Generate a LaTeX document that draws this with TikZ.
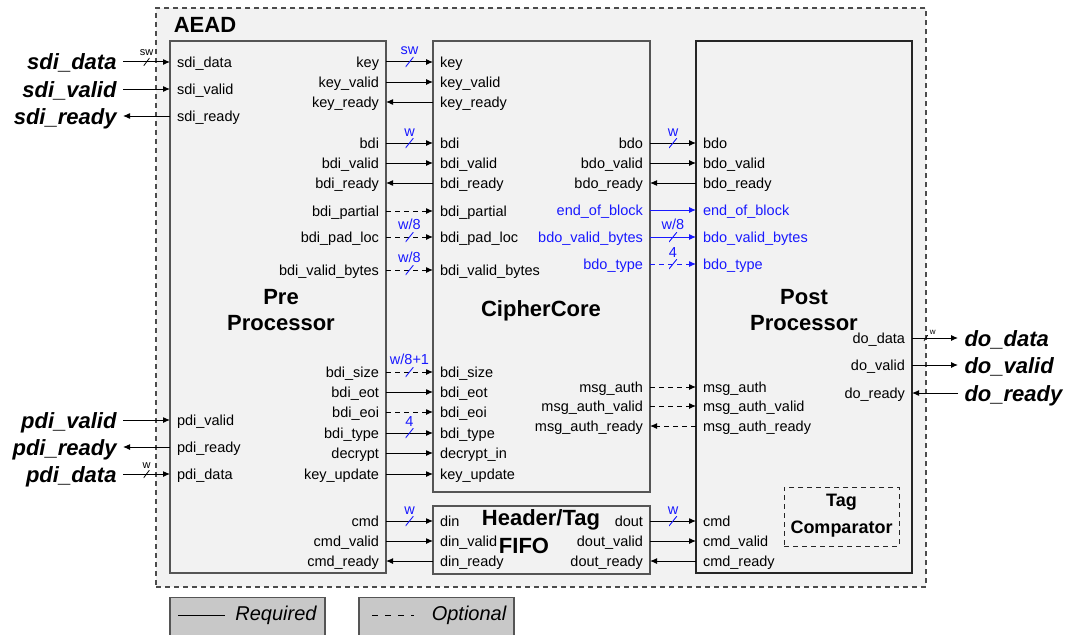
\documentclass[tikz,border=0pt]{standalone}
\usepackage{fontspec}
\setmainfont{Liberation Sans}
\usetikzlibrary{arrows.meta}

\definecolor{bgfill}{RGB}{242,242,242}
\definecolor{legfill}{RGB}{200,200,200}
\definecolor{sigblue}{RGB}{25,25,255}
\definecolor{boxline}{RGB}{85,85,85}

\newcommand{\portfont}{\fontsize{14.5}{16}\selectfont}
\newcommand{\smallfont}{\fontsize{11}{12}\selectfont}
\newcommand{\titlefont}{\fontsize{22}{26}\selectfont\bfseries}
\newcommand{\extfont}{\fontsize{22}{26}\selectfont\bfseries\itshape}

\begin{document}
\begin{tikzpicture}[x=1pt, y=-1pt, ->, >={Latex[length=7pt,width=6pt]}, line width=1pt]
	\tikzstyle{blk}=[draw=boxline, fill=bgfill, line width=1.2pt, inner sep=0pt]
	\tikzstyle{lport}=[anchor=west, inner xsep=6.5pt, inner ysep=2pt, text height=10.5pt, text depth=0pt, font=\portfont]
	\tikzstyle{rport}=[lport, anchor=east]
	\tikzstyle{lext}=[anchor=east, inner xsep=6pt, inner ysep=2pt, text height=16pt, text depth=0pt, font=\extfont]
	\tikzstyle{rext}=[lext, anchor=west]
	\tikzstyle{ttl}=[font=\titlefont, align=center]
	\tikzstyle{opt}=[dash pattern=on 5pt off 4pt]
	\tikzstyle{blu}=[draw=sigblue, text=sigblue]
	\tikzstyle{slash}=[midway, inner sep=0pt, minimum width=8pt, minimum height=10pt,
		path picture={\draw[-, solid, sigblue, line width=0.9pt] (path picture bounding box.south west) -- (path picture bounding box.north east);}]
	\tikzstyle{xslash}=[slash, minimum width=6pt, minimum height=8pt,
		path picture={\draw[-, solid, black, line width=0.8pt] (path picture bounding box.south west) -- (path picture bounding box.north east);}]
	\tikzstyle{buslbl}=[font=\portfont, text=sigblue, inner sep=1pt]
	\tikzstyle{xbuslbl}=[font=\smallfont, text=black, inner sep=1pt]
	\tikzstyle{leg}=[draw=boxline, fill=legfill, line width=1.2pt, minimum width=155pt, minimum height=43pt, inner sep=0pt]

	\useasboundingbox (0, 0) rectangle (1070, 634);

	% blocks
	\node[blk, draw=black!70, opt, minimum width=770pt, minimum height=579pt] at (541, 297.5) (aead) {};
	\node[font=\titlefont, anchor=west] at (170, 25) (aead-ttl) {AEAD};
	\node[blk, minimum width=216pt, minimum height=532pt] at (278, 307) (pre) {};
	\node[blk, minimum width=217pt, minimum height=451pt] at (541.5, 266.5) (cc) {};
	\node[blk, minimum width=217pt, minimum height=68pt] at (541.5, 540) (fifo) {};
	\node[blk, draw=black!85, minimum width=216pt, minimum height=532pt] at (804, 307) (post) {};
	\node[draw=black!85, opt, minimum width=115pt, minimum height=59pt, inner sep=0pt] at (841.5, 516.5) (tagcmp) {};

	\node[ttl] at (281, 310) (pre-ttl) {Pre\\Processor};
	\node[ttl] at (541, 311) (cc-ttl) {CipherCore};
	\node[ttl] at (541, 520) (ff-ttl) {Header/Tag};
	\node[ttl] at (524, 546) (ff-ttl2) {FIFO};
	\node[ttl] at (804, 310) (post-ttl) {Post\\Processor};
	\node[font=\fontsize{18}{27}\selectfont\bfseries, align=center] at (841.5, 516) (tagcmp-ttl) {Tag\\Comparator};

	% pre processor ports
	\node[lport] at (170, 62) (pp-sdi-data) {sdi\_data};
	\node[lport] at (170, 89) (pp-sdi-valid) {sdi\_valid};
	\node[lport] at (170, 116) (pp-sdi-ready) {sdi\_ready};
	\node[lport] at (170, 420) (pp-pdi-valid) {pdi\_valid};
	\node[lport] at (170, 447) (pp-pdi-ready) {pdi\_ready};
	\node[lport] at (170, 474) (pp-pdi-data) {pdi\_data};

	\node[rport] at (386, 62) (pp-key) {key};
	\node[rport] at (386, 82) (pp-key-valid) {key\_valid};
	\node[rport] at (386, 102) (pp-key-ready) {key\_ready};
	\node[rport] at (386, 143) (pp-bdi) {bdi};
	\node[rport] at (386, 163) (pp-bdi-valid) {bdi\_valid};
	\node[rport] at (386, 183) (pp-bdi-ready) {bdi\_ready};
	\node[rport] at (386, 211) (pp-bdi-partial) {bdi\_partial};
	\node[rport] at (386, 237) (pp-bdi-pad-loc) {bdi\_pad\_loc};
	\node[rport] at (386, 270) (pp-bdi-valid-bytes) {bdi\_valid\_bytes};
	\node[rport] at (386, 372) (pp-bdi-size) {bdi\_size};
	\node[rport] at (386, 392) (pp-bdi-eot) {bdi\_eot};
	\node[rport] at (386, 412) (pp-bdi-eoi) {bdi\_eoi};
	\node[rport] at (386, 433) (pp-bdi-type) {bdi\_type};
	\node[rport] at (386, 453) (pp-decrypt) {decrypt};
	\node[rport] at (386, 474) (pp-key-update) {key\_update};
	\node[rport] at (386, 521) (pp-cmd) {cmd};
	\node[rport] at (386, 541) (pp-cmd-valid) {cmd\_valid};
	\node[rport] at (386, 561) (pp-cmd-ready) {cmd\_ready};

	% ciphercore ports
	\node[lport] at (433, 62) (cc-key) {key};
	\node[lport] at (433, 82) (cc-key-valid) {key\_valid};
	\node[lport] at (433, 102) (cc-key-ready) {key\_ready};
	\node[lport] at (433, 143) (cc-bdi) {bdi};
	\node[lport] at (433, 163) (cc-bdi-valid) {bdi\_valid};
	\node[lport] at (433, 183) (cc-bdi-ready) {bdi\_ready};
	\node[lport] at (433, 211) (cc-bdi-partial) {bdi\_partial};
	\node[lport] at (433, 237) (cc-bdi-pad-loc) {bdi\_pad\_loc};
	\node[lport] at (433, 270) (cc-bdi-valid-bytes) {bdi\_valid\_bytes};
	\node[lport] at (433, 372) (cc-bdi-size) {bdi\_size};
	\node[lport] at (433, 392) (cc-bdi-eot) {bdi\_eot};
	\node[lport] at (433, 412) (cc-bdi-eoi) {bdi\_eoi};
	\node[lport] at (433, 433) (cc-bdi-type) {bdi\_type};
	\node[lport] at (433, 453) (cc-decrypt-in) {decrypt\_in};
	\node[lport] at (433, 474) (cc-key-update) {key\_update};

	\node[rport] at (650, 143) (cc-bdo) {bdo};
	\node[rport] at (650, 163) (cc-bdo-valid) {bdo\_valid};
	\node[rport] at (650, 183) (cc-bdo-ready) {bdo\_ready};
	\node[rport, text=sigblue] at (650, 210) (cc-end-of-block) {end\_of\_block};
	\node[rport, text=sigblue] at (650, 237) (cc-bdo-valid-bytes) {bdo\_valid\_bytes};
	\node[rport, text=sigblue] at (650, 264) (cc-bdo-type) {bdo\_type};
	\node[rport] at (650, 387) (cc-msg-auth) {msg\_auth};
	\node[rport] at (650, 406) (cc-msg-auth-valid) {msg\_auth\_valid};
	\node[rport] at (650, 426) (cc-msg-auth-ready) {msg\_auth\_ready};

	% fifo ports
	\node[lport] at (433, 521) (ff-din) {din};
	\node[lport] at (433, 541) (ff-din-valid) {din\_valid};
	\node[lport] at (433, 561) (ff-din-ready) {din\_ready};
	\node[rport] at (650, 521) (ff-dout) {dout};
	\node[rport] at (650, 541) (ff-dout-valid) {dout\_valid};
	\node[rport] at (650, 561) (ff-dout-ready) {dout\_ready};

	% post processor ports
	\node[lport] at (696, 143) (pst-bdo) {bdo};
	\node[lport] at (696, 163) (pst-bdo-valid) {bdo\_valid};
	\node[lport] at (696, 183) (pst-bdo-ready) {bdo\_ready};
	\node[lport, text=sigblue] at (696, 210) (pst-end-of-block) {end\_of\_block};
	\node[lport, text=sigblue] at (696, 237) (pst-bdo-valid-bytes) {bdo\_valid\_bytes};
	\node[lport, text=sigblue] at (696, 264) (pst-bdo-type) {bdo\_type};
	\node[lport] at (696, 387) (pst-msg-auth) {msg\_auth};
	\node[lport] at (696, 406) (pst-msg-auth-valid) {msg\_auth\_valid};
	\node[lport] at (696, 426) (pst-msg-auth-ready) {msg\_auth\_ready};
	\node[lport] at (696, 521) (pst-cmd) {cmd};
	\node[lport] at (696, 541) (pst-cmd-valid) {cmd\_valid};
	\node[lport] at (696, 561) (pst-cmd-ready) {cmd\_ready};
	\node[rport] at (912, 338) (pst-do-data) {do\_data};
	\node[rport] at (912, 365) (pst-do-valid) {do\_valid};
	\node[rport] at (912, 393) (pst-do-ready) {do\_ready};

	% external signals
	\node[lext] at (123, 62) (in-sdi-data) {sdi\_data};
	\node[lext] at (123, 89) (in-sdi-valid) {sdi\_valid};
	\node[lext] at (123, 116) (in-sdi-ready) {sdi\_ready};
	\node[lext] at (123, 420) (in-pdi-valid) {pdi\_valid};
	\node[lext] at (123, 447) (in-pdi-ready) {pdi\_ready};
	\node[lext] at (123, 474) (in-pdi-data) {pdi\_data};
	\node[rext] at (958, 338) (out-do-data) {do\_data};
	\node[rext] at (958, 365) (out-do-valid) {do\_valid};
	\node[rext] at (958, 393) (out-do-ready) {do\_ready};

	\path
	(in-sdi-data.east) edge node[xslash, label={[xbuslbl]above:sw}] {} (pp-sdi-data.west)
	(in-sdi-valid.east) edge (pp-sdi-valid.west)
	(pp-sdi-ready.west) edge (in-sdi-ready.east)
	(in-pdi-valid.east) edge (pp-pdi-valid.west)
	(pp-pdi-ready.west) edge (in-pdi-ready.east)
	(in-pdi-data.east) edge node[xslash, label={[xbuslbl]above:w}] {} (pp-pdi-data.west)
	(pst-do-data.east) edge node[xslash, pos=0.3, minimum width=4pt, minimum height=6pt, label={[xbuslbl, font=\fontsize{8}{9}\selectfont]above right:w}] {} (out-do-data.west)
	(pst-do-valid.east) edge (out-do-valid.west)
	(out-do-ready.west) edge (pst-do-ready.east);

	\path
	(pp-key.east) edge node[slash, label={[buslbl]above:sw}] {} (cc-key.west)
	(pp-key-valid.east) edge (cc-key-valid.west)
	(cc-key-ready.west) edge (pp-key-ready.east)
	(pp-bdi.east) edge node[slash, label={[buslbl]above:w}] {} (cc-bdi.west)
	(pp-bdi-valid.east) edge (cc-bdi-valid.west)
	(cc-bdi-ready.west) edge (pp-bdi-ready.east)
	(pp-bdi-partial.east) edge[opt] (cc-bdi-partial.west)
	(pp-bdi-pad-loc.east) edge[opt] node[slash, label={[buslbl]above:w/8}] {} (cc-bdi-pad-loc.west)
	(pp-bdi-valid-bytes.east) edge[opt] node[slash, label={[buslbl]above:w/8}] {} (cc-bdi-valid-bytes.west)
	(pp-bdi-size.east) edge[opt] node[slash, label={[buslbl]above:w/8+1}] {} (cc-bdi-size.west)
	(pp-bdi-eot.east) edge (cc-bdi-eot.west)
	(pp-bdi-eoi.east) edge[opt] (cc-bdi-eoi.west)
	(pp-bdi-type.east) edge node[slash, label={[buslbl]above:4}] {} (cc-bdi-type.west)
	(pp-decrypt.east) edge (cc-decrypt-in.west)
	(pp-key-update.east) edge (cc-key-update.west)
	(pp-cmd.east) edge node[slash, label={[buslbl]above:w}] {} (ff-din.west)
	(pp-cmd-valid.east) edge (ff-din-valid.west)
	(ff-din-ready.west) edge (pp-cmd-ready.east);

	\path
	(cc-bdo.east) edge node[slash, label={[buslbl]above:w}] {} (pst-bdo.west)
	(cc-bdo-valid.east) edge (pst-bdo-valid.west)
	(pst-bdo-ready.west) edge (cc-bdo-ready.east)
	(cc-end-of-block.east) edge[blu] (pst-end-of-block.west)
	(cc-bdo-valid-bytes.east) edge[blu] node[slash, label={[buslbl]above:w/8}] {} (pst-bdo-valid-bytes.west)
	(cc-bdo-type.east) edge[blu, opt] node[slash, label={[buslbl]above:4}] {} (pst-bdo-type.west)
	(cc-msg-auth.east) edge[opt] (pst-msg-auth.west)
	(cc-msg-auth-valid.east) edge[opt] (pst-msg-auth-valid.west)
	(pst-msg-auth-ready.west) edge[opt] (cc-msg-auth-ready.east)
	(ff-dout.east) edge node[slash, label={[buslbl]above:w}] {} (pst-cmd.west)
	(ff-dout-valid.east) edge (pst-cmd-valid.west)
	(pst-cmd-ready.west) edge (ff-dout-ready.east);

	% legend
	\node[leg] at (247.5, 619) (req-box) {};
	\coordinate (req-a) at (178, 615);
	\coordinate (req-b) at (225, 615);
	\draw[-] (req-a) -- (req-b);
	\node[font=\fontsize{20}{22}\selectfont\itshape] at (276, 615) (req-txt) {Required};
	\node[leg] at (436.5, 619) (opt-box) {};
	\coordinate (opt-a) at (372, 615);
	\coordinate (opt-b) at (414, 615);
	\draw[-, dash pattern=on 6pt off 7pt] (opt-a) -- (opt-b);
	\node[font=\fontsize{20}{22}\selectfont\itshape] at (469, 615) (opt-txt) {Optional};
\end{tikzpicture}
\end{document}
